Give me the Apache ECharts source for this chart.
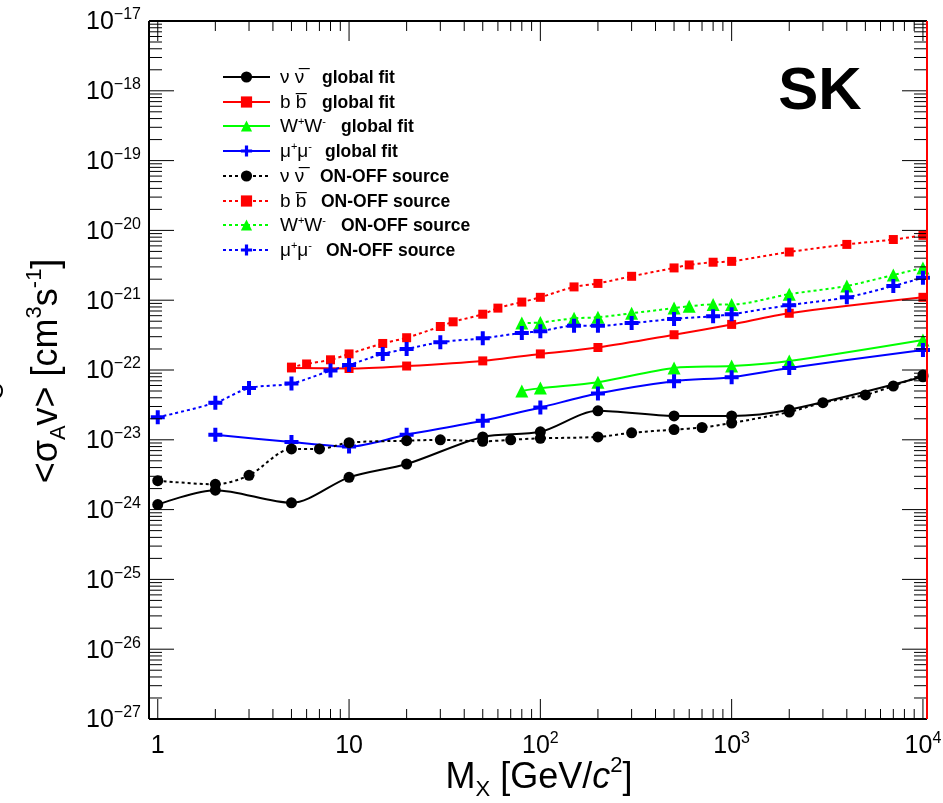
<!DOCTYPE html>
<html>
<head>
<meta charset="utf-8">
<script src="https://cdn.jsdelivr.net/npm/echarts@6/dist/echarts.min.js"></script>
<style>html,body{margin:0;padding:0;background:#fff}#c{width:943px;height:803px}</style>
</head>
<body>
<div id="c"></div>
<script>
// ---------------- data ----------------
const nnGF_M = [1, 2, 5, 10, 20, 50, 100, 200, 500, 1000, 2000, 10000];
const nnGF_V = [1.18e-24, 1.9e-24, 1.25e-24, 2.9e-24, 4.5e-24, 1.1e-23, 1.3e-23, 2.6e-23, 2.2e-23, 2.2e-23, 2.7e-23, 8.0e-23];

const bbGF_M = [5, 10, 20, 50, 100, 200, 500, 1000, 2000, 10000];
const bbGF_V = [1.07e-22, 1.05e-22, 1.14e-22, 1.35e-22, 1.7e-22, 2.1e-22, 3.2e-22, 4.5e-22, 6.5e-22, 1.1e-21];

const wwGF_M = [80, 100, 200, 500, 1000, 2000, 10000];
const wwGF_V = [5.0e-23, 5.5e-23, 6.7e-23, 1.07e-22, 1.14e-22, 1.35e-22, 2.7e-22];

const mmGF_M = [2, 5, 10, 20, 50, 100, 200, 500, 1000, 2000, 10000];
const mmGF_V = [1.18e-23, 9.3e-24, 8.0e-24, 1.18e-23, 1.87e-23, 2.9e-23, 4.6e-23, 6.9e-23, 7.9e-23, 1.07e-22, 1.94e-22];

const nnOO_M = [1, 2, 3, 5, 7, 10, 20, 30, 50, 70, 100, 200, 300, 500, 700, 1000, 2000, 3000, 5000, 7000, 10000];
const nnOO_V = [2.6e-24, 2.3e-24, 3.1e-24, 7.4e-24, 7.4e-24, 9.1e-24, 9.7e-24, 1.0e-23, 9.5e-24, 1.0e-23, 1.05e-23, 1.1e-23, 1.26e-23, 1.4e-23, 1.5e-23, 1.74e-23, 2.5e-23, 3.4e-23, 4.4e-23, 5.9e-23, 8.5e-23];

const bbOO_M = [5, 6, 8, 10, 15, 20, 30, 35, 50, 60, 80, 100, 150, 200, 300, 500, 600, 800, 1000, 2000, 4000, 7000, 10000];
const bbOO_V = [1.1e-22, 1.22e-22, 1.4e-22, 1.7e-22, 2.4e-22, 2.9e-22, 4.2e-22, 4.9e-22, 6.3e-22, 7.7e-22, 9.4e-22, 1.1e-21, 1.55e-21, 1.74e-21, 2.2e-21, 2.9e-21, 3.2e-21, 3.5e-21, 3.6e-21, 4.9e-21, 6.3e-21, 7.4e-21, 8.5e-21];

const wwOO_M = [80, 100, 150, 200, 300, 500, 600, 800, 1000, 2000, 4000, 7000, 10000];
const wwOO_V = [4.7e-22, 4.8e-22, 5.5e-22, 5.7e-22, 6.5e-22, 7.7e-22, 8.2e-22, 8.7e-22, 8.7e-22, 1.22e-21, 1.6e-21, 2.3e-21, 2.9e-21];

const mmOO_M = [1, 2, 3, 5, 8, 10, 15, 20, 30, 50, 80, 100, 150, 200, 300, 500, 800, 1000, 2000, 4000, 7000, 10000];
const mmOO_V = [2.1e-23, 3.4e-23, 5.5e-23, 6.4e-23, 9.8e-23, 1.18e-22, 1.7e-22, 2.0e-22, 2.5e-22, 2.85e-22, 3.4e-22, 3.6e-22, 4.3e-22, 4.3e-22, 4.7e-22, 5.4e-22, 5.9e-22, 6.3e-22, 8.5e-22, 1.1e-21, 1.6e-21, 2.1e-21];

const seriesNames = ['nn_gf', 'bb_gf', 'ww_gf', 'mm_gf', 'nn_oo', 'bb_oo', 'ww_oo', 'mm_oo'];
const legendLabels = [
  '{w42|ν ν\u0305}{b|global fit}',
  '{w42|b b\u0305}{b|global fit}',
  '{g|W}{p|+}{g|W}{p|-}{s15| }{b|global fit}',
  '{g|μ}{p|+}{g|μ}{p|-}{s13| }{b|global fit}',
  '{w40|ν ν\u0305}{b|ON-OFF source}',
  '{w41|b b\u0305}{b|ON-OFF source}',
  '{g|W}{p|+}{g|W}{p|-}{s15| }{b|ON-OFF source}',
  '{g|μ}{p|+}{g|μ}{p|-}{s14| }{b|ON-OFF source}'
];

// axis ticks / labels
const X_MIN = 0.9, X_MAX = 10500, Y_MIN = 1e-27, Y_MAX = 1e-17;
const xTickValues = [1, 10, 100, 1000, 10000];
const xTickLabels = ['{b|1}', '{b|10}', '{b|10}{s|2}', '{b|10}{s|3}', '{b|10}{s|4}'];
const yTickExp = [-27, -26, -25, -24, -23, -22, -21, -20, -19, -18, -17];
const yTickLabels = yTickExp.map(e => '{b|10}{s|\u2212' + (-e) + '}');

// ---------------- chart ----------------
const FONT = '"Liberation Sans", Arial, Helvetica, sans-serif';
const chart = echarts.init(document.getElementById('c'), null, {renderer: 'canvas'});

const crossPath = 'path://M5,0H9V5H14V9H9V14H5V9H0V5H5Z';

function mkSeries(name, M, V, color, symbol, size, dotted) {
  return {
    name: name,
    type: 'line',
    data: M.map((m, i) => [m, V[i]]),
    smooth: 0.3,
    symbol: symbol,
    symbolSize: size,
    symbolKeepAspect: true,
    showAllSymbol: true,
    itemStyle: {color: color, borderWidth: 0},
    lineStyle: {color: color, width: 2, type: dotted ? [3, 3] : 'solid'},
    emphasis: {disabled: true},
    z: 3
  };
}

const axisRich = {
  b: {fontSize: 25, fontFamily: FONT, color: '#000', lineHeight: 28, verticalAlign: 'bottom'},
  s: {fontSize: 16, fontFamily: FONT, color: '#000', lineHeight: 16, verticalAlign: 'top'}
};

function renderAxes(params, api) {
  if (params.dataIndex !== 0) return;
  const ch = [];
  const bl = api.coord([X_MIN, Y_MIN]);
  const tr = api.coord([X_MAX, Y_MAX]);
  const L = bl[0], B = bl[1], R = tr[0], T = tr[1];
  const ln = (x1, y1, x2, y2, w, c) => ({type: 'line', shape: {x1, y1, x2, y2}, style: {stroke: c || '#000', lineWidth: w || 1}});
  xTickValues.forEach(v => {
    const x = api.coord([v, Y_MIN])[0];
    ch.push(ln(x, B, x, B - 20, 1), ln(x, T, x, T + 20, 1));
  });
  for (let d = 1; d < 10000; d *= 10) {
    for (let k = 2; k <= 9; k++) {
      const x = api.coord([k * d, Y_MIN])[0];
      ch.push(ln(x, B, x, B - 10, 1), ln(x, T, x, T + 10, 1));
    }
  }
  yTickExp.forEach(e => {
    const y = api.coord([1, Math.pow(10, e)])[1];
    ch.push(ln(L, y, L + 25, y, 1), ln(R, y, R - 25, y, 1));
    for (let k = 2; k <= 9 && e < -17; k++) {
      const y2 = api.coord([1, k * Math.pow(10, e)])[1];
      ch.push(ln(L, y2, L + 13, y2, 1), ln(R, y2, R - 13, y2, 1));
    }
  });
  ch.push(ln(L, T, R, T, 2), ln(L, B, R, B, 2), ln(L, T, L, B, 2));
  ch.push(ln(R, T, R, B, 2, '#ff0000'));
  xTickValues.forEach((v, i) => {
    const x = api.coord([v, Y_MIN])[0];
    ch.push({type: 'text', style: {text: xTickLabels[i], x: x, y: B + 12, align: 'center', verticalAlign: 'top', textAlign: 'center', textVerticalAlign: 'top', rich: axisRich}});
  });
  yTickExp.forEach((e, i) => {
    const y = api.coord([1, Math.pow(10, e)])[1];
    ch.push({type: 'text', style: {text: yTickLabels[i], x: L - 8, y: y, align: 'right', verticalAlign: 'middle', textAlign: 'right', textVerticalAlign: 'middle', rich: axisRich}});
  });
  return {type: 'group', children: ch};
}

const titleRich = {
  t: {fontSize: 36, fontFamily: FONT, color: '#000', lineHeight: 46, verticalAlign: 'middle'},
  i: {fontSize: 36, fontFamily: FONT, fontStyle: 'italic', color: '#000', lineHeight: 46, verticalAlign: 'middle'},
  sup: {fontSize: 22, fontFamily: FONT, color: '#000', lineHeight: 22, verticalAlign: 'top'},
  sub: {fontSize: 22, fontFamily: FONT, color: '#000', lineHeight: 22, verticalAlign: 'bottom'}
};

const gStyle = {fontSize: 19, fontFamily: FONT, color: '#000', lineHeight: 20, verticalAlign: 'bottom'};
const legendRich = {
  g: gStyle,
  w42: Object.assign({}, gStyle, {width: 42}),
  w41: Object.assign({}, gStyle, {width: 41}),
  w40: Object.assign({}, gStyle, {width: 40}),
  s13: Object.assign({}, gStyle, {width: 13}),
  s14: Object.assign({}, gStyle, {width: 14}),
  s15: Object.assign({}, gStyle, {width: 15}),
  p: {fontSize: 11, fontFamily: FONT, color: '#000', lineHeight: 12, verticalAlign: 'top'},
  b: {fontSize: 17.5, fontFamily: FONT, fontWeight: 'bold', color: '#000', lineHeight: 20, verticalAlign: 'bottom'}
};

const rowCenters = [76, 101, 126, 151, 176, 200, 225, 250];
const rowShift = [-8, -8, -10, -10, -9, -8, -10, -10];
const legends = seriesNames.map((n, i) => ({
  show: true,
  orient: 'vertical',
  left: 222,
  top: rowCenters[i] + rowShift[i],
  padding: 0,
  itemWidth: 47,
  itemHeight: 14,
  data: [n],
  formatter: name => legendLabels[seriesNames.indexOf(name)],
  selectedMode: false,
  textStyle: {padding: [0, 0, 0, 5], rich: legendRich}
}));

const option = {
  backgroundColor: '#fff',
  animation: false,
  grid: {left: 149, right: 16, top: 21, bottom: 84, outerBoundsMode: 'none', containLabel: false},
  xAxis: {type: 'log', min: X_MIN, max: X_MAX, axisLine: {show: false}, axisTick: {show: false}, axisLabel: {show: false}, splitLine: {show: false}, minorTick: {show: false}},
  yAxis: {type: 'log', min: Y_MIN, max: Y_MAX, axisLine: {show: false}, axisTick: {show: false}, axisLabel: {show: false}, splitLine: {show: false}, minorTick: {show: false}},
  legend: legends,
  graphic: [
    {type: 'text', x: 47, y: 371, rotation: Math.PI / 2, style: {text: '{t|<σ}{sub|A}{t|v> [cm}{sup|3}{t|s}{sup|-1}{t|]}', align: 'center', verticalAlign: 'middle', textAlign: 'center', textVerticalAlign: 'middle', rich: titleRich}},
    {type: 'text', x: 539, y: 778, style: {text: '{t|M}{sub|X}{t| [GeV/}{i|c}{sup|2}{t|]}', align: 'center', verticalAlign: 'middle', textAlign: 'center', textVerticalAlign: 'middle', rich: titleRich}},
    {type: 'text', x: 820, y: 92, style: {text: 'SK', font: 'bold 60px ' + FONT, fill: '#000', align: 'center', verticalAlign: 'middle', textAlign: 'center', textVerticalAlign: 'middle'}},
    {type: 'text', x: -4, y: 391, rotation: Math.PI / 2, style: {text: 'O', font: '24px ' + FONT, fill: '#000', align: 'center', verticalAlign: 'middle', textAlign: 'center', textVerticalAlign: 'middle'}}
  ],
  series: [
    mkSeries('nn_gf', nnGF_M, nnGF_V, '#000000', 'circle', 11, false),
    mkSeries('bb_gf', bbGF_M, bbGF_V, '#ff0000', 'rect', 9, false),
    mkSeries('ww_gf', wwGF_M, wwGF_V, '#00ff00', 'triangle', 13, false),
    mkSeries('mm_gf', mmGF_M, mmGF_V, '#0000ff', crossPath, 14, false),
    mkSeries('nn_oo', nnOO_M, nnOO_V, '#000000', 'circle', 11, true),
    mkSeries('bb_oo', bbOO_M, bbOO_V, '#ff0000', 'rect', 9, true),
    mkSeries('ww_oo', wwOO_M, wwOO_V, '#00ff00', 'triangle', 13, true),
    mkSeries('mm_oo', mmOO_M, mmOO_V, '#0000ff', crossPath, 14, true),
    {
      name: 'axes',
      type: 'custom',
      coordinateSystem: 'cartesian2d',
      data: [[1, 1e-22]],
      renderItem: renderAxes,
      clip: false,
      silent: true,
      z: 10
    }
  ]
};
chart.setOption(option);
</script>
</body>
</html>
